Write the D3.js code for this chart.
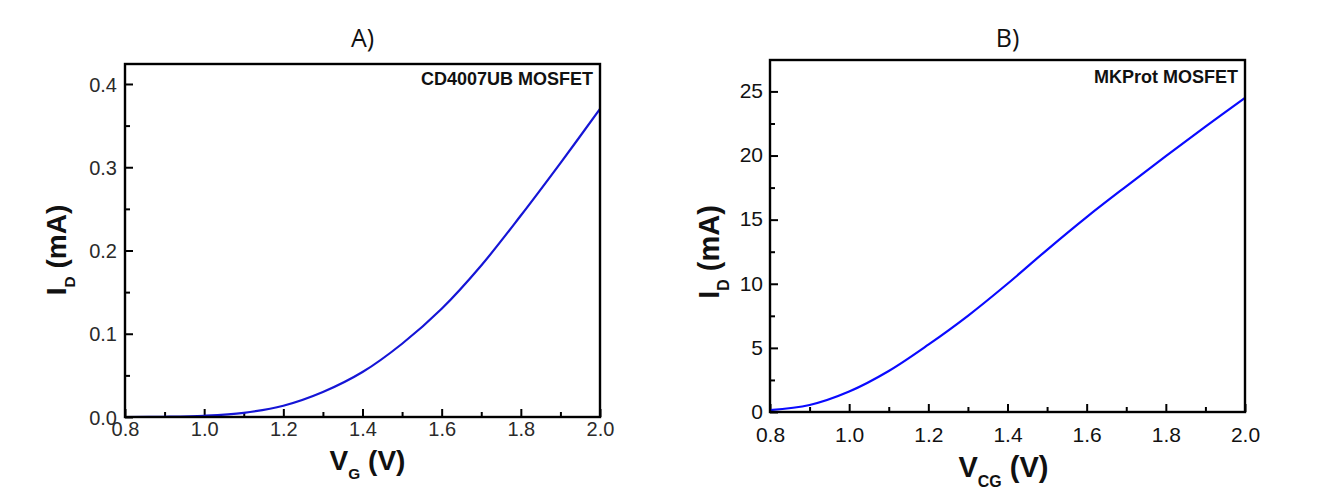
<!DOCTYPE html>
<html>
<head>
<meta charset="utf-8">
<script src="https://cdn.jsdelivr.net/npm/d3@7"></script>
<style>
  html, body { margin: 0; padding: 0; background: #ffffff; }
  svg { display: block; }
</style>
</head>
<body>
<svg id="fig" width="1342" height="495"></svg>
<script>
// Transfer characteristics of two MOSFETs (drain current vs gate voltage)

// Panel A: CD4007UB
const vgA = [0.8, 0.9, 1.0, 1.1, 1.2, 1.3, 1.4, 1.5, 1.6, 1.7, 1.8, 1.9, 2.0];
const idA = [0.0, 0.0003, 0.0015, 0.005, 0.0135, 0.030, 0.054, 0.088, 0.130, 0.182, 0.242, 0.305, 0.370];

// Panel B: MKProt
const vcgB = [0.8, 0.9, 1.0, 1.1, 1.2, 1.3, 1.4, 1.5, 1.6, 1.7, 1.8, 1.9, 2.0];
const idB = [0.15, 0.55, 1.6, 3.2, 5.25, 7.5, 10.0, 12.65, 15.2, 17.6, 19.95, 22.25, 24.5];

// Axis ticks
const xMajor = [0.8, 1.0, 1.2, 1.4, 1.6, 1.8, 2.0];
const xMinor = [0.9, 1.1, 1.3, 1.5, 1.7, 1.9];
const xTickLabels = ["0.8", "1.0", "1.2", "1.4", "1.6", "1.8", "2.0"];
const yMajorA = [0.0, 0.1, 0.2, 0.3, 0.4];
const yMinorA = [0.05, 0.15, 0.25, 0.35];
const yTickLabelsA = ["0.0", "0.1", "0.2", "0.3", "0.4"];
const yMajorB = [0, 5, 10, 15, 20, 25];
const yMinorB = [2.5, 7.5, 12.5, 17.5, 22.5];
const yTickLabelsB = ["0", "5", "10", "15", "20", "25"];

const svg = d3.select("#fig");
const SANS = "'Liberation Sans', Arial, Helvetica, sans-serif";

function panel(cfg) {
  const x = d3.scaleLinear().domain([0.8, 2.0]).range([cfg.left, cfg.right]);
  const y = d3.scaleLinear().domain(cfg.yDomain).range([cfg.bottom, cfg.top]);
  const g = svg.append("g");

  // panel letter
  g.append("text")
    .attr("x", (cfg.left + cfg.right) / 2)
    .attr("y", cfg.titleY)
    .attr("text-anchor", "middle")
    .attr("font-family", "'Open Sans', 'Noto Sans', sans-serif")
    .attr("font-size", 25)
    .attr("fill", "#111")
    .text(cfg.title);

  // inward ticks: bottom axis
  const axX = g.append("g").attr("transform", `translate(0,${cfg.bottom})`);
  axX.call(d3.axisBottom(x).tickValues(xMajor).tickSize(-8).tickFormat((d, i) => xTickLabels[i]));
  axX.append("g").call(d3.axisBottom(x).tickValues(xMinor).tickSize(-5).tickFormat(""));
  axX.selectAll(".domain").remove();
  axX.selectAll("line").attr("stroke", "#000").attr("stroke-width", 2);
  axX.selectAll("text")
    .attr("font-family", SANS)
    .attr("font-size", cfg.tickFont)
    .attr("fill", cfg.tickColor)
    .attr("dy", null)
    .attr("y", cfg.xLabelOffset);

  // inward ticks: left axis
  const axY = g.append("g").attr("transform", `translate(${cfg.left},0)`);
  axY.call(d3.axisLeft(y).tickValues(cfg.yMajor).tickSize(-8).tickFormat((d, i) => cfg.yTickLabels[i]));
  axY.append("g").call(d3.axisLeft(y).tickValues(cfg.yMinor).tickSize(-5).tickFormat(""));
  axY.selectAll(".domain").remove();
  axY.selectAll("line").attr("stroke", "#000").attr("stroke-width", 2);
  axY.selectAll("text")
    .attr("font-family", SANS)
    .attr("font-size", cfg.tickFont)
    .attr("fill", cfg.tickColor)
    .attr("x", -cfg.yLabelGap)
    .attr("dy", cfg.yLabelDy);

  // curve
  const pts = cfg.xs.map((v, i) => [v, cfg.ys[i]]);
  g.append("path")
    .datum(pts)
    .attr("fill", "none")
    .attr("stroke", cfg.lineColor)
    .attr("stroke-width", 2.2)
    .attr("d", d3.line().x(d => x(d[0])).y(d => y(d[1])).curve(d3.curveCatmullRom.alpha(0.5)));

  // frame
  g.append("rect")
    .attr("x", cfg.left).attr("y", cfg.top)
    .attr("width", cfg.right - cfg.left).attr("height", cfg.bottom - cfg.top)
    .attr("fill", "none").attr("stroke", "#000").attr("stroke-width", 2.4);

  // device annotation
  g.append("text")
    .attr("x", cfg.right - 7)
    .attr("y", cfg.top + cfg.noteDy)
    .attr("text-anchor", "end")
    .attr("font-family", SANS)
    .attr("font-weight", "bold")
    .attr("font-size", cfg.noteFont)
    .attr("fill", "#111")
    .text(cfg.note);

  // x axis title with subscript
  const xt = g.append("text")
    .attr("x", (cfg.left + cfg.right) / 2 + cfg.xTitleShift)
    .attr("y", cfg.xTitleY)
    .attr("text-anchor", "middle")
    .attr("font-family", SANS)
    .attr("font-weight", "bold")
    .attr("font-size", cfg.titleFont)
    .attr("fill", "#111");
  xt.append("tspan").text("V");
  xt.append("tspan").attr("font-size", cfg.titleFont * 0.55).attr("dy", cfg.titleFont * 0.33).text(cfg.xSub);
  xt.append("tspan").attr("dy", -cfg.titleFont * 0.33).text(" (V)");

  // y axis title with subscript
  const yt = g.append("text")
    .attr("transform", `translate(${cfg.yTitleX},${cfg.yTitleY}) rotate(-90)`)
    .attr("text-anchor", "middle")
    .attr("font-family", SANS)
    .attr("font-weight", "bold")
    .attr("font-size", cfg.titleFont)
    .attr("fill", "#111");
  yt.append("tspan").text("I");
  yt.append("tspan").attr("font-size", cfg.titleFont * 0.55).attr("dy", cfg.titleFont * 0.33).text("D");
  yt.append("tspan").attr("dy", -cfg.titleFont * 0.33).text(" (mA)");
}

panel({
  title: "A)", titleY: 47,
  left: 125, right: 600, top: 64, bottom: 417,
  yDomain: [0, 0.424],
  yMajor: yMajorA, yMinor: yMinorA, yTickLabels: yTickLabelsA,
  xs: vgA, ys: idA,
  lineColor: "#1515d6", tickColor: "#2a2a2a", tickFont: 20,
  xLabelOffset: 19, yLabelGap: 8, yLabelDy: "0.36em",
  note: "CD4007UB MOSFET", noteFont: 18, noteDy: 21,
  titleFont: 28, xSub: "G", xTitleY: 470, xTitleShift: 5,
  yTitleX: 66, yTitleY: 250
});

panel({
  title: "B)", titleY: 47,
  left: 770, right: 1245, top: 60, bottom: 412,
  yDomain: [0, 27.45],
  yMajor: yMajorB, yMinor: yMinorB, yTickLabels: yTickLabelsB,
  xs: vcgB, ys: idB,
  lineColor: "#0a0aff", tickColor: "#111", tickFont: 21,
  xLabelOffset: 30, yLabelGap: 7, yLabelDy: "0.3em",
  note: "MKProt MOSFET", noteFont: 18, noteDy: 23,
  titleFont: 29, xSub: "CG", xTitleY: 477, xTitleShift: -4,
  yTitleX: 719, yTitleY: 252
});
</script>
</body>
</html>
